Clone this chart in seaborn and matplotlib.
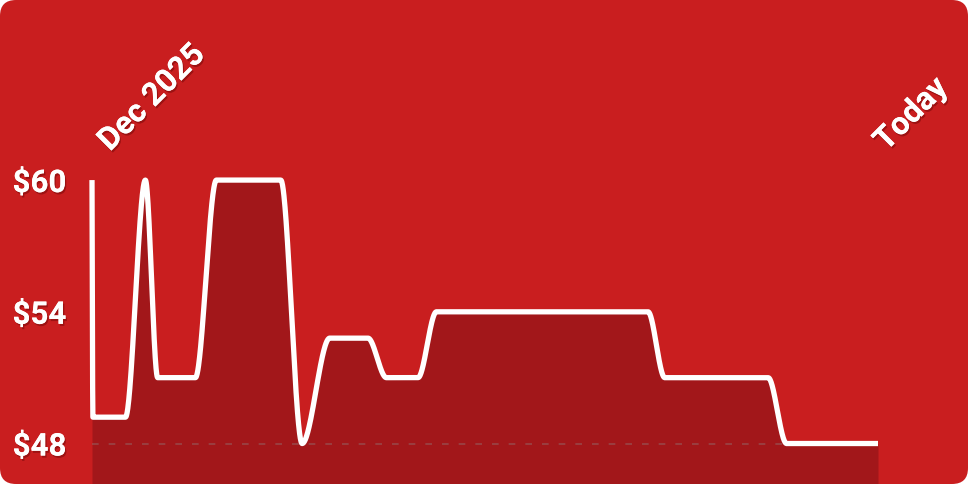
import numpy as np
import pandas as pd
import matplotlib
matplotlib.use("Agg")
import matplotlib.pyplot as plt
import matplotlib.patheffects as pe
from matplotlib.patches import FancyBboxPatch
import seaborn as sns

# price history (x = days since start of Dec 2025)
days = [0, 0.05, 1.82, 2.90, 3.57, 5.62, 6.76, 10.26, 11.42, 12.92,
        15.0, 16.0, 17.72, 18.72, 30.22, 31.13, 36.75, 37.75, 42.72]
prices = [60, 49.2, 49.2, 60, 51, 51, 60, 60, 48, 52.8,
          52.8, 51, 51, 54, 54, 51, 51, 48, 48]
y_ticks = [48, 54, 60]
y_labels = ["$48", "$54", "$60"]
x_labels = ["Dec 2025", "Today"]

BG = "#C91E1F"
FILL = "#A2171A"


def monotone_curve(x, y, n=60):
    # same maths as d3.curveMonotoneX, sampled so seaborn can draw it
    x = np.asarray(x, float)
    y = np.asarray(y, float)
    h = np.diff(x)
    s = np.diff(y) / h
    t = np.zeros_like(x)
    for i in range(1, len(x) - 1):
        p = (s[i - 1] * h[i] + s[i] * h[i - 1]) / (h[i - 1] + h[i])
        t[i] = (np.sign(s[i - 1]) + np.sign(s[i])) * min(abs(s[i - 1]), abs(s[i]), 0.5 * abs(p))
    t[0] = (3 * s[0] - t[1]) / 2
    t[-1] = (3 * s[-1] - t[-2]) / 2
    xs, ys = [], []
    for i in range(len(x) - 1):
        u = np.linspace(0, 1, n, endpoint=(i == len(x) - 2))
        h00 = 2 * u**3 - 3 * u**2 + 1
        h10 = u**3 - 2 * u**2 + u
        h01 = -2 * u**3 + 3 * u**2
        h11 = u**3 - u**2
        xs.append(x[i] + u * h[i])
        ys.append(h00 * y[i] + h10 * h[i] * t[i] + h01 * y[i + 1] + h11 * h[i] * t[i + 1])
    return np.concatenate(xs), np.concatenate(ys)


xs, ys = monotone_curve(days, prices)
curve = pd.DataFrame({"day": xs, "price": ys})

sns.set_theme(style="white")
plt.rcParams["font.family"] = ["Roboto", "DejaVu Sans"]

fig = plt.figure(figsize=(9.68, 4.84), dpi=100, facecolor="white")
card = FancyBboxPatch((0, 0), 9.68, 4.84, boxstyle="round,pad=0,rounding_size=0.16",
                      transform=fig.dpi_scale_trans, facecolor=BG, edgecolor="none",
                      figure=fig, zorder=-10)
fig.patches.append(card)

ax = fig.add_axes([92 / 968, 0, 786 / 968, 334 / 484])
ax.set_facecolor("none")
ymin, ymax = 46.156, 61.37
ax.set_xlim(days[0], days[-1])
ax.set_ylim(ymin, ymax)

ax.fill_between(curve["day"], curve["price"], ymin, color=FILL, lw=0, zorder=1)
ax.axhline(48, color="#8a8a8a", alpha=0.4, lw=1.2, ls=(0, (4, 6)), zorder=2)
sns.lineplot(data=curve, x="day", y="price", ax=ax, color="white", lw=3.8,
             sort=False, estimator=None, zorder=3, clip_on=False)
ax.lines[-1].set_solid_capstyle("butt")
ax.lines[-1].set_solid_joinstyle("round")

shadow = [pe.withSimplePatchShadow(offset=(1, -1.5), shadow_rgbFace="#5a0000", alpha=0.4), pe.Normal()]

ax.set_yticks(y_ticks)
ax.set_yticklabels(y_labels)
ax.tick_params(axis="y", length=0, pad=18.5, labelsize=22.5, labelcolor="white")
for lab in ax.get_yticklabels():
    lab.set_fontweight("bold")
    lab.set_path_effects(shadow)

# date labels at the two ends, rotated like the original
ax.set_xticks([])
label_nudge = [(18, -2), (8, -2)]
for d, txt, (dx, dy) in zip([days[0], days[-1]], x_labels, label_nudge):
    ax.annotate(txt, xy=(d, 1), xycoords=("data", "axes fraction"),
                xytext=(dx, dy), textcoords="offset pixels",
                rotation=45, rotation_mode="anchor", ha="left", va="baseline",
                fontsize=23, fontweight="bold", color="white",
                path_effects=shadow, annotation_clip=False)

ax.set_xlabel(None)
ax.set_ylabel(None)
sns.despine(ax=ax, left=True, bottom=True, top=True, right=True)

fig.savefig("out.png", dpi=100, facecolor=fig.get_facecolor())
